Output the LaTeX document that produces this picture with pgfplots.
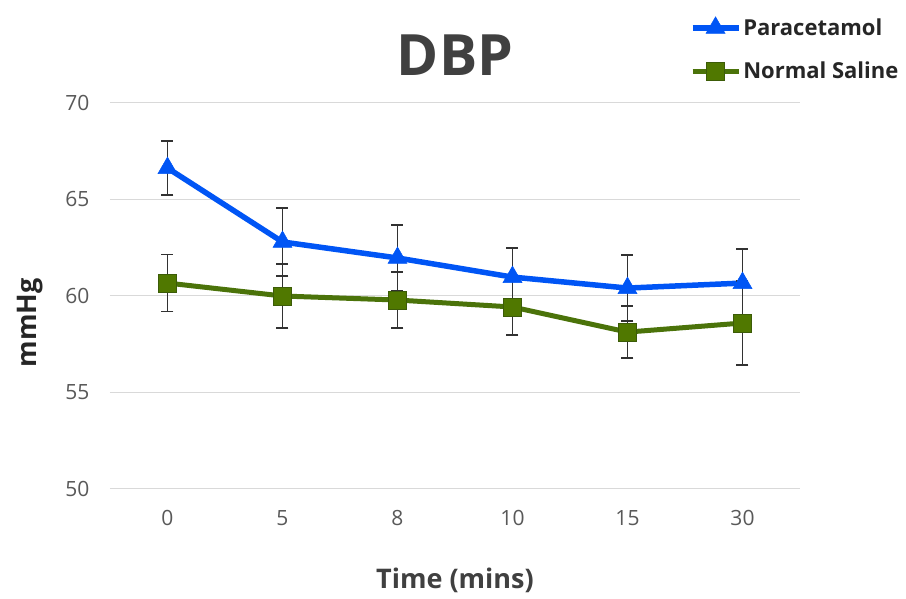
\documentclass[border=0pt]{standalone}
\usepackage{pgfplots}
\pgfplotsset{compat=1.18}
\usepackage{fontspec}
\setmainfont{Open Sans}
\definecolor{parablue}{RGB}{0,85,245}
\definecolor{salgreen}{RGB}{75,115,10}
\definecolor{salfill}{RGB}{80,120,0}
\definecolor{errgray}{RGB}{50,50,50}
\definecolor{ticktext}{RGB}{89,89,89}
\definecolor{titletext}{RGB}{64,64,64}
\definecolor{gridc}{RGB}{217,217,217}
\begin{document}
\begin{tikzpicture}[x=1pt,y=1pt]
\begin{axis}[
  scale only axis,
  width=690pt, height=386pt,
  xmin=-0.5, xmax=5.5,
  ymin=50, ymax=70,
  xtick={0,1,2,3,4,5},
  xticklabels={0,5,8,10,15,30},
  ytick={50,55,60,65,70},
  axis line style={draw=none},
  major tick length=0pt,
  ymajorgrids,
  grid style={gridc, line width=1pt},
  /pgf/number format/assume math mode=true,
  ticklabel style={font=\fontsize{21}{24}\selectfont, text=ticktext},
  yticklabel style={xshift=-17pt},
  xticklabel style={yshift=-18pt},
  title={DBP},
  title style={at={(0.5,1.108)}, anchor=center, font=\fontsize{57}{60}\bfseries, text=titletext},
  xlabel={Time (mins)},
  xlabel style={at={(0.5,-0.237)}, anchor=center, font=\fontsize{27}{30}\selectfont\bfseries, text=titletext},
  ylabel={mmHg},
  ylabel style={at={(-0.116,0.43)}, anchor=center, font=\fontsize{27}{30}\selectfont\bfseries, text=black!85},
  legend style={at={(0.84,1.224)}, anchor=north west, draw=none, fill=none,
    font=\fontsize{22}{24}\selectfont\bfseries, text=black!85, row sep=21pt,
    inner sep=0pt, cells={anchor=west}},
  legend image code/.code={\draw[mark repeat=2,mark phase=2,#1] plot coordinates {(0pt,0pt) (23pt,0pt) (46pt,0pt)};},
  error bars/error bar style={errgray, line width=1.5pt},
  error bars/error mark options={rotate=90, errgray, line width=1.5pt, mark size=6pt},
  clip=false,
]
\addplot[parablue, line width=5.5pt, mark=triangle*, mark size=11pt,
  mark options={fill=parablue, draw=parablue, line width=0.5pt},
  error bars/.cd, y dir=both, y explicit]
  coordinates {
  (0,66.63) +- (0,1.40)
  (1,62.80) +- (0,1.76)
  (2,61.97) +- (0,1.71)
  (3,60.98) +- (0,1.50)
  (4,60.41) +- (0,1.71)
  (5,60.67) +- (0,1.76)
  };
\addlegendentry{Paracetamol}
\addplot[salgreen, line width=5pt, mark=square*, mark size=9pt,
  mark options={fill=salfill, draw=salgreen!80!black, line width=0.8pt},
  error bars/.cd, y dir=both, y explicit]
  coordinates {
  (0,60.67) +- (0,1.48)
  (1,60.00) +- (0,1.66)
  (2,59.79) +- (0,1.45)
  (3,59.43) +- (0,1.45)
  (4,58.13) +- (0,1.35)
  (5,58.60) +- (0,2.18)
  };
\addlegendentry{Normal Saline}
\coordinate (sw) at (rel axis cs:0,0);
\end{axis}
\pgfresetboundingbox
\path (sw) ++(-110pt,-110pt) rectangle ++(906pt,599pt);
\end{tikzpicture}
\end{document}
